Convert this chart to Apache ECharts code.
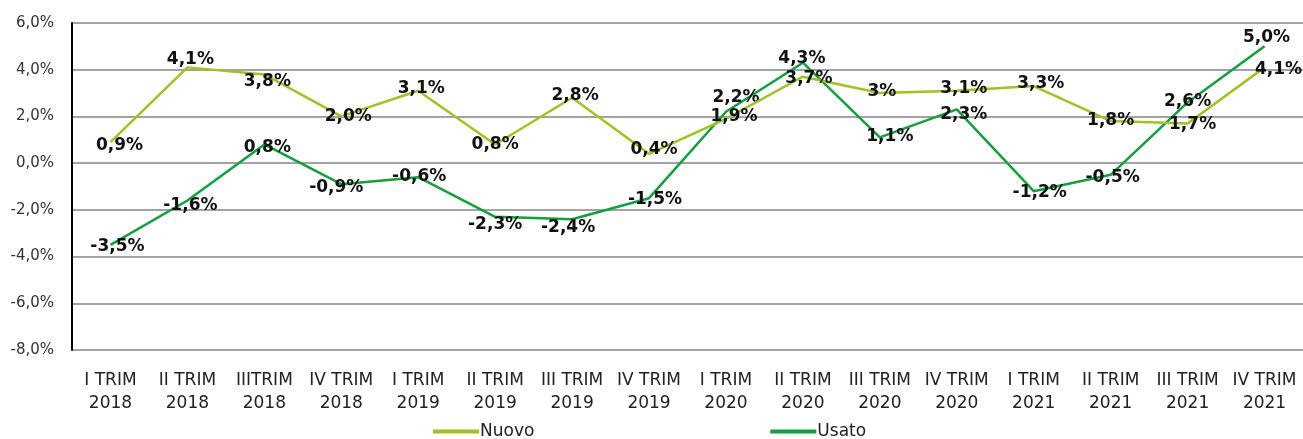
<!DOCTYPE html>
<html>
<head>
<meta charset="utf-8">
<script src="https://cdn.jsdelivr.net/npm/echarts@6/dist/echarts.min.js"></script>
<style>html,body{margin:0;padding:0;background:#fff}#c{width:1303px;height:439px}</style>
</head>
<body>
<div id="c"></div>
<script>
const categories = ["I TRIM\n2018","II TRIM\n2018","IIITRIM\n2018","IV TRIM\n2018","I TRIM\n2019","II TRIM\n2019","III TRIM\n2019","IV TRIM\n2019","I TRIM\n2020","II TRIM\n2020","III TRIM\n2020","IV TRIM\n2020","I TRIM\n2021","II TRIM\n2021","III TRIM\n2021","IV TRIM\n2021"];
const nuovo = [0.9, 4.1, 3.8, 2.0, 3.1, 0.8, 2.8, 0.4, 1.9, 3.7, 3.0, 3.1, 3.3, 1.8, 1.7, 4.1];
const usato = [-3.5, -1.6, 0.8, -0.9, -0.6, -2.3, -2.4, -1.5, 2.2, 4.3, 1.1, 2.3, -1.2, -0.5, 2.6, 5.0];
const nuovoLabels = ["0,9%","4,1%","3,8%","2,0%","3,1%","0,8%","2,8%","0,4%","1,9%","3,7%","3%","3,1%","3,3%","1,8%","1,7%","4,1%"];
const usatoLabels = ["-3,5%","-1,6%","0,8%","-0,9%","-0,6%","-2,3%","-2,4%","-1,5%","2,2%","4,3%","1,1%","2,3%","-1,2%","-0,5%","2,6%","5,0%"];
const yTicks = {min: -8, max: 6, interval: 2};

// label placement (style only)
const nuovoLabelOffset = [[9,3],[3,-8],[3,7],[7,0],[3,-2],[0,0],[3,-2],[5,-4],[8,-2],[6,2],[2,-1],[7,-2],[7,-2],[0,-1],[5,1],[14,2]];
const usatoLabelOffset = [[7,2],[3,5],[3,3],[-5,3],[1,-1],[0,8],[-4,8],[6,1],[10,-14],[-1,-4],[10,-1],[7,5],[6,1],[2,3],[0,-1],[2,-9]];

const labelFont = {fontFamily: 'DejaVu Sans', fontWeight: 'bold', fontSize: 17, color: '#111'};

function build(values, labels, offsets) {
  return values.map((v, i) => ({
    value: v,
    label: Object.assign({show: true, position: 'inside', offset: offsets[i], formatter: labels[i]}, labelFont)
  }));
}

const chart = echarts.init(document.getElementById('c'), null, {renderer: 'canvas'});
chart.setOption({
  animation: false,
  backgroundColor: '#fff',
  grid: {left: 72, right: 0, top: 23, bottom: 89},
  legend: {
    left: 428, top: 418,
    itemWidth: 46, itemHeight: 4, itemGap: 236,
    icon: 'rect',
    textStyle: {fontFamily: 'DejaVu Sans', fontSize: 17, color: '#222', padding: [0,0,0,-4]},
    data: ['Nuovo', 'Usato']
  },
  xAxis: {
    type: 'category',
    data: categories,
    boundaryGap: true,
    axisLine: {show: false},
    axisTick: {show: false},
    axisLabel: {fontFamily: 'DejaVu Sans', fontSize: 17, color: '#222', lineHeight: 23, margin: 19, interval: 0}
  },
  yAxis: {
    type: 'value',
    min: yTicks.min, max: yTicks.max, interval: yTicks.interval,
    axisLine: {show: true, lineStyle: {color: '#000', width: 2}},
    axisTick: {show: false},
    splitLine: {show: true, lineStyle: {color: '#a3a3a3', width: 2}},
    axisLabel: {
      fontFamily: 'DejaVu Sans', fontSize: 15, color: '#333', margin: 18,
      formatter: v => v.toFixed(1).replace('.', ',') + '%'
    }
  },
  series: [
    {
      name: 'Nuovo', type: 'line', symbol: 'circle', symbolSize: 0, showSymbol: true, z: 3,
      itemStyle: {color: '#9dc41f'},
      lineStyle: {color: '#9dc41f', width: 2.5},
      data: build(nuovo, nuovoLabels, nuovoLabelOffset)
    },
    {
      name: 'Usato', type: 'line', symbol: 'circle', symbolSize: 0, showSymbol: true, z: 2,
      itemStyle: {color: '#10a03e'},
      lineStyle: {color: '#10a03e', width: 2.5},
      data: build(usato, usatoLabels, usatoLabelOffset)
    }
  ]
});
</script>
</body>
</html>
